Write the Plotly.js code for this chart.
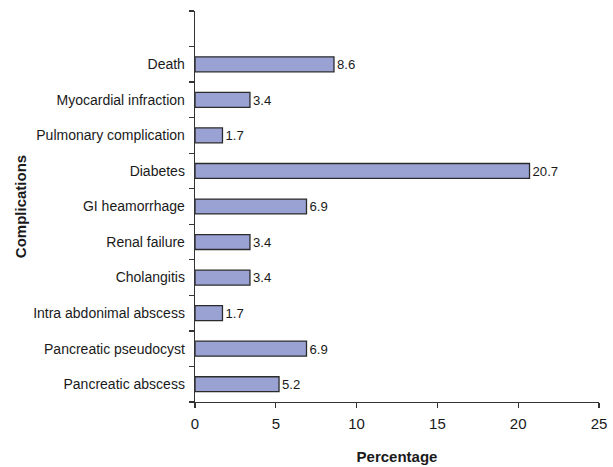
<!DOCTYPE html>
<html>
<head>
<meta charset="utf-8">
<script src="https://cdn.plot.ly/plotly-3.0.1.min.js"></script>
<style>
  html, body { margin: 0; padding: 0; background: #fff; }
  #chart { width: 613px; height: 467px; }
</style>
</head>
<body>
<div id="chart"></div>
<script>
// Complications after surgery, percentage of patients (bottom to top)
const complications = [
  "Pancreatic abscess",
  "Pancreatic pseudocyst",
  "Intra abdonimal abscess",
  "Cholangitis",
  "Renal failure",
  "GI heamorrhage",
  "Diabetes",
  "Pulmonary complication",
  "Myocardial infraction",
  "Death"
];
const percentages = [5.2, 6.9, 1.7, 3.4, 3.4, 6.9, 20.7, 1.7, 3.4, 8.6];
const xTicks = [0, 5, 10, 15, 20, 25];

const fontFamily = '"Liberation Sans Narrow", "Liberation Sans", Arial, sans-serif';
const ink = '#1a1a1a';

const bars = {
  type: 'bar',
  orientation: 'h',
  x: percentages,
  y: complications,
  width: 0.42,
  marker: { color: '#9aa2d4', line: { color: '#2b2b2b', width: 1.3 } },
  text: percentages.map(v => v.toFixed(1)),
  textposition: 'outside',
  textfont: { family: fontFamily, size: 15, color: ink },
  cliponaxis: false,
  hoverinfo: 'x+y'
};

// invisible trace that carries the boundary tick marks of the category axis
const boundaryTicks = {
  type: 'scatter',
  x: [null], y: [null],
  yaxis: 'y2',
  showlegend: false,
  hoverinfo: 'skip'
};

const boundaries = [];
for (let i = 0; i <= complications.length + 1; i++) boundaries.push(i - 0.5);

const layout = {
  width: 613,
  height: 467,
  margin: { l: 195, r: 14, t: 11, b: 65 },
  paper_bgcolor: '#fff',
  plot_bgcolor: '#fff',
  showlegend: false,
  font: { family: fontFamily, size: 14, color: ink },
  xaxis: {
    range: [0, 25],
    tickvals: xTicks,
    ticktext: xTicks.map(String),
    ticks: 'outside',
    ticklen: 5,
    tickwidth: 1.3,
    tickcolor: '#333',
    showline: true,
    linecolor: '#333',
    linewidth: 1.3,
    showgrid: false,
    zeroline: false,
    ticklabelstandoff: 3,
    tickfont: { family: fontFamily, size: 15, color: ink },
    title: {
      text: '<b>Percentage</b>',
      font: { family: fontFamily, size: 15, color: ink },
      standoff: 20
    }
  },
  yaxis: {
    type: 'category',
    categoryorder: 'array',
    categoryarray: complications,
    range: [-0.5, complications.length + 0.5],
    ticks: '',
    showline: true,
    linecolor: '#333',
    linewidth: 1.3,
    showgrid: false,
    zeroline: false,
    ticklabelstandoff: 6,
    tickfont: { family: fontFamily, size: 14, color: ink },
    title: {
      text: '<b>Complications</b>',
      font: { family: fontFamily, size: 15, color: ink },
      standoff: 3
    },
    automargin: true
  },
  yaxis2: {
    overlaying: 'y',
    side: 'left',
    range: [-0.5, complications.length + 0.5],
    tickvals: boundaries,
    showticklabels: false,
    ticks: 'outside',
    ticklen: 5,
    tickwidth: 1.3,
    tickcolor: '#333',
    showline: false,
    showgrid: false,
    zeroline: false
  }
};

Plotly.newPlot('chart', [bars, boundaryTicks], layout, { displayModeBar: false, staticPlot: true });
</script>
</body>
</html>
